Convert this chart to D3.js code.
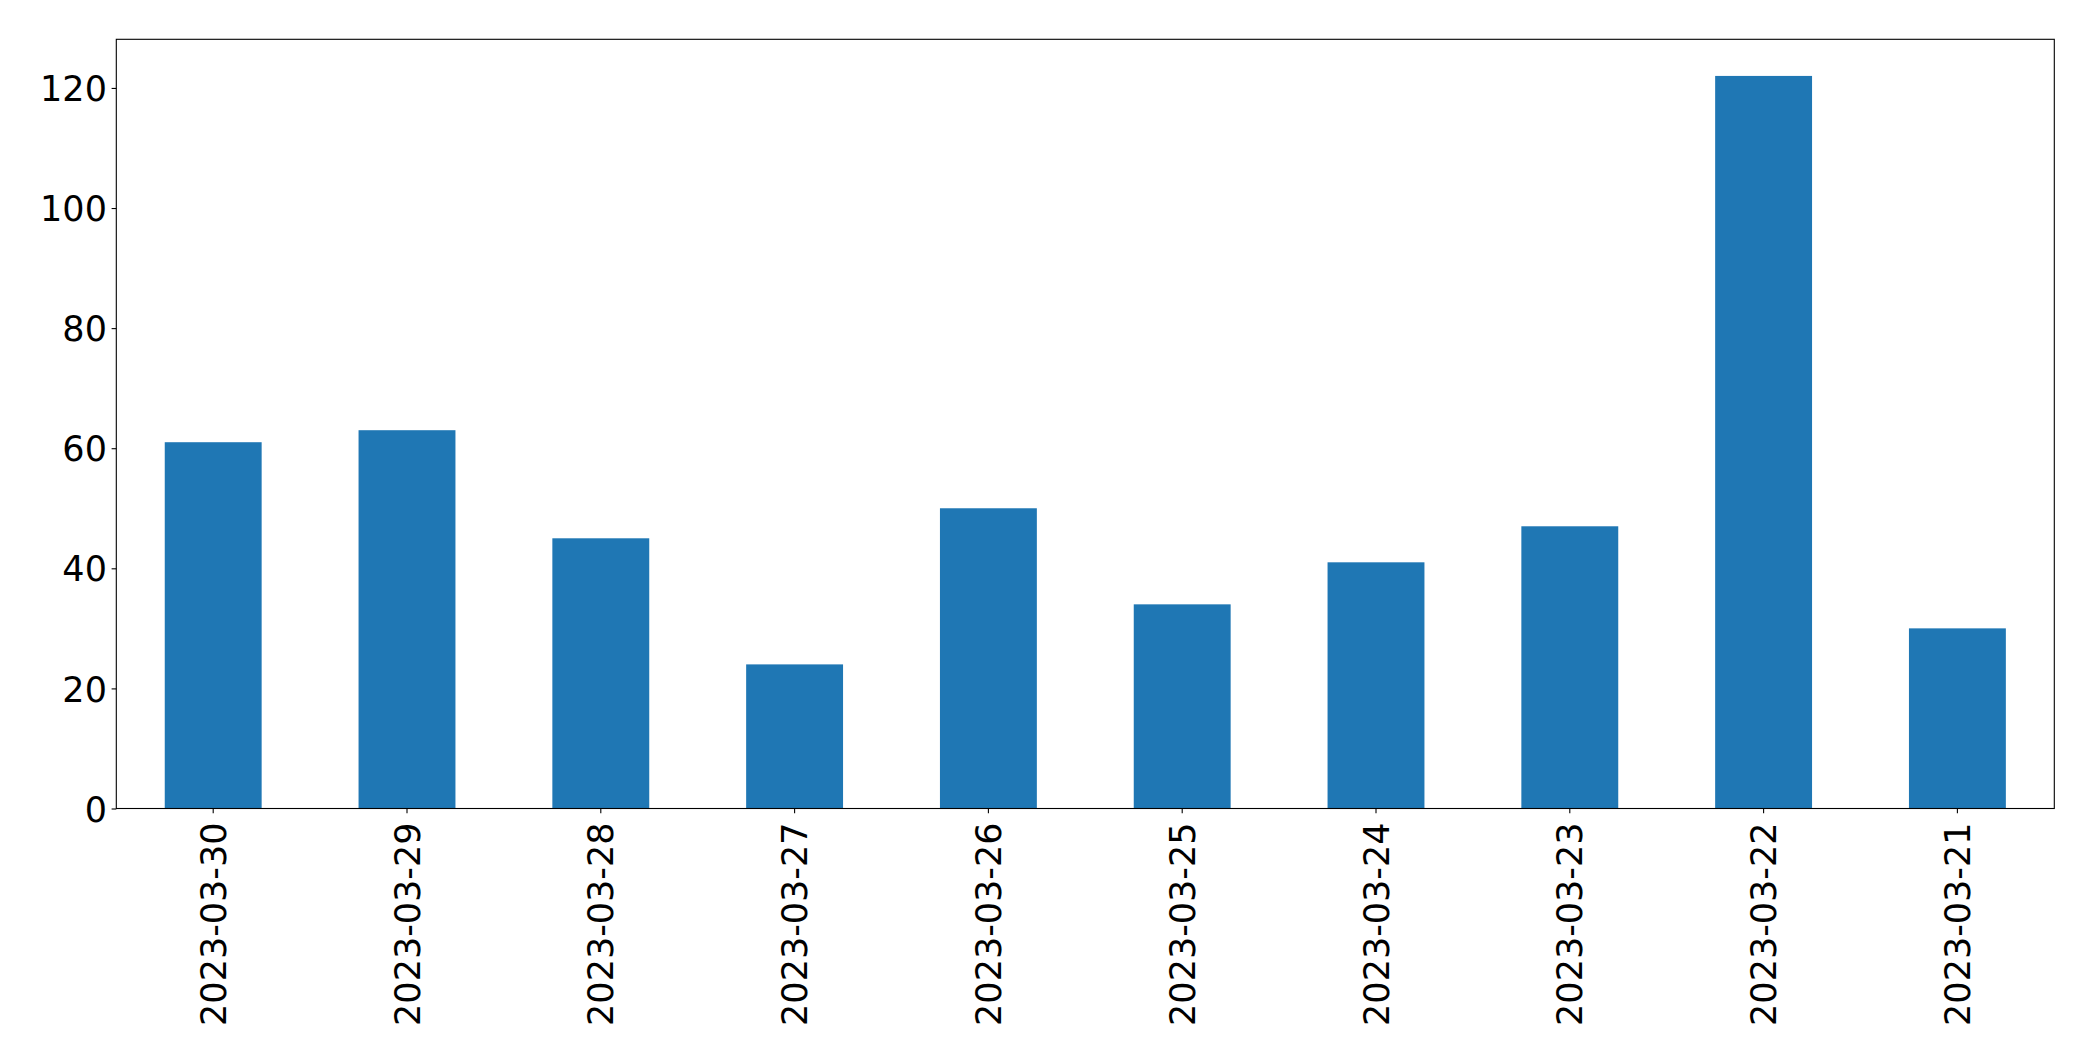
<!DOCTYPE html>
<html>
<head>
<meta charset="utf-8">
<script src="https://cdn.jsdelivr.net/npm/d3@7"></script>
<style>
  html, body { margin: 0; padding: 0; background: #fff; }
  svg { display: block; }
</style>
</head>
<body>
<script>
const categories = ["2023-03-30","2023-03-29","2023-03-28","2023-03-27","2023-03-26","2023-03-25","2023-03-24","2023-03-23","2023-03-22","2023-03-21"];
const values = [61, 63, 45, 24, 50, 34, 41, 47, 122, 30];
const yTicks = [0, 20, 40, 60, 80, 100, 120];

const W = 2093, H = 1061;
const margin = {left: 116.3, right: W - 2054.3, top: 39.3, bottom: H - 808.5};
const iw = W - margin.left - margin.right;
const ih = H - margin.top - margin.bottom;
const FONT = "'DejaVu Sans', sans-serif";
const FS = 35;

const svg = d3.select("body").append("svg").attr("width", W).attr("height", H);
const g = svg.append("g").attr("transform", `translate(${margin.left},${margin.top})`);

const x = d3.scaleBand().domain(categories).range([0, iw]).paddingInner(0.5).paddingOuter(0.25);
const yMax = d3.max(values) * 1.05;
const y = d3.scaleLinear().domain([0, yMax]).range([ih, 0]);

g.selectAll("rect.bar").data(values).join("rect")
  .attr("class", "bar")
  .attr("x", (d, i) => x(categories[i]))
  .attr("width", x.bandwidth())
  .attr("y", d => y(d))
  .attr("height", d => y(0) - y(d))
  .attr("fill", "#1f77b4");

// y axis
const yAxis = g.append("g").call(d3.axisLeft(y).tickValues(yTicks).tickSize(4.7).tickPadding(4.7).tickFormat(d3.format("d")));
yAxis.select(".domain").remove();
yAxis.selectAll("line").attr("stroke", "#000").attr("stroke-width", 1.1);
yAxis.selectAll("text").attr("font-family", FONT).attr("font-size", FS).attr("fill", "#000").attr("dy", "0.36em");

// x axis
const xAxis = g.append("g").attr("transform", `translate(0,${ih})`)
  .call(d3.axisBottom(x).tickSize(4.7).tickPadding(0));
xAxis.select(".domain").remove();
xAxis.selectAll("line").attr("stroke", "#000").attr("stroke-width", 1.1);
xAxis.selectAll("text")
  .attr("font-family", FONT).attr("font-size", FS).attr("fill", "#000")
  .attr("text-anchor", "end")
  .attr("transform", "translate(0,14) rotate(-90)")
  .attr("x", 0).attr("y", 0).attr("dy", "0.36em");

// frame
g.append("rect").attr("x", 0).attr("y", 0).attr("width", iw).attr("height", ih)
  .attr("fill", "none").attr("stroke", "#000").attr("stroke-width", 1.1);
</script>
</body>
</html>
